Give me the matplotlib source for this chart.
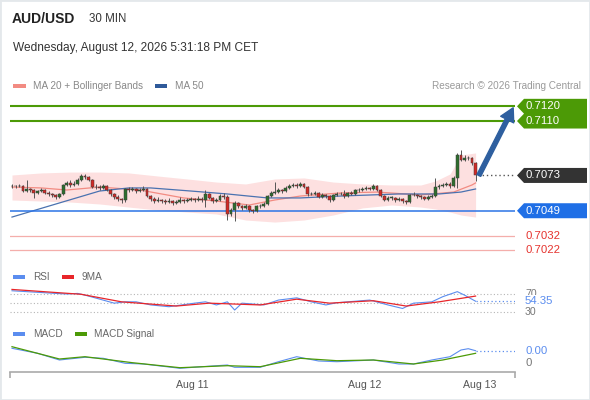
import matplotlib
matplotlib.use('Agg')
import matplotlib.pyplot as plt
from matplotlib.patches import Polygon, Rectangle
from matplotlib.transforms import IdentityTransform
import numpy as np

plt.rcParams['font.family'] = ['Liberation Sans', 'DejaVu Sans']

# ---------------- data ----------------
pair = "AUD/USD"
timeframe = "30 MIN"
date_text = "Wednesday, August 12, 2026 5:31:18 PM CET"

first_open = 0.70658
closes = [
    0.70658, 0.70658, 0.70658, 0.70624, 0.70638, 0.70631, 0.70611, 0.70624, 0.70631, 0.70611,
    0.70604, 0.70597, 0.70583, 0.70604, 0.70665, 0.70679, 0.70665, 0.70672, 0.70699, 0.70726,
    0.70720, 0.70699, 0.70651, 0.70651, 0.70645, 0.70658, 0.70631, 0.70604, 0.70583, 0.70570,
    0.70563, 0.70638, 0.70631, 0.70638, 0.70624, 0.70631, 0.70638, 0.70590, 0.70570, 0.70556,
    0.70563, 0.70556, 0.70549, 0.70556, 0.70543, 0.70549, 0.70563, 0.70556, 0.70563, 0.70570,
    0.70563, 0.70570, 0.70563, 0.70604, 0.70577, 0.70556, 0.70563, 0.70590, 0.70583, 0.70468,
    0.70495, 0.70543, 0.70522, 0.70509, 0.70522, 0.70495, 0.70488, 0.70522, 0.70522, 0.70536,
    0.70590, 0.70611, 0.70617, 0.70631, 0.70624, 0.70645, 0.70658, 0.70665, 0.70658, 0.70672,
    0.70651, 0.70604, 0.70604, 0.70611, 0.70583, 0.70597, 0.70590, 0.70563, 0.70597, 0.70604,
    0.70604, 0.70590, 0.70611, 0.70604, 0.70631, 0.70631, 0.70638, 0.70645, 0.70638, 0.70658,
    0.70631, 0.70590, 0.70563, 0.70577, 0.70577, 0.70563, 0.70570, 0.70556, 0.70549, 0.70597,
    0.70597, 0.70590, 0.70583, 0.70570, 0.70583, 0.70590, 0.70651, 0.70658, 0.70665, 0.70672,
    0.70658, 0.70713, 0.70869, 0.70835, 0.70849, 0.70849, 0.70815, 0.70730]
highs = [
    0.70672, 0.70665, 0.70672, 0.70665, 0.70699, 0.70645, 0.70638, 0.70631, 0.70645, 0.70638,
    0.70624, 0.70611, 0.70604, 0.70611, 0.70672, 0.70692, 0.70699, 0.70692, 0.70713, 0.70740,
    0.70740, 0.70726, 0.70706, 0.70672, 0.70665, 0.70672, 0.70665, 0.70638, 0.70611, 0.70597,
    0.70577, 0.70645, 0.70651, 0.70651, 0.70645, 0.70645, 0.70658, 0.70645, 0.70597, 0.70583,
    0.70583, 0.70570, 0.70570, 0.70577, 0.70563, 0.70563, 0.70583, 0.70570, 0.70577, 0.70583,
    0.70577, 0.70590, 0.70583, 0.70631, 0.70611, 0.70583, 0.70577, 0.70604, 0.70611, 0.70597,
    0.70509, 0.70556, 0.70549, 0.70529, 0.70536, 0.70529, 0.70502, 0.70529, 0.70536, 0.70549,
    0.70597, 0.70624, 0.70685, 0.70645, 0.70638, 0.70658, 0.70672, 0.70679, 0.70679, 0.70685,
    0.70679, 0.70658, 0.70617, 0.70624, 0.70617, 0.70611, 0.70604, 0.70597, 0.70604, 0.70617,
    0.70617, 0.70631, 0.70617, 0.70624, 0.70638, 0.70645, 0.70651, 0.70658, 0.70651, 0.70672,
    0.70665, 0.70638, 0.70597, 0.70590, 0.70590, 0.70583, 0.70583, 0.70577, 0.70563, 0.70604,
    0.70617, 0.70604, 0.70597, 0.70590, 0.70597, 0.70604, 0.70713, 0.70672, 0.70679, 0.70685,
    0.70685, 0.70726, 0.70883, 0.70903, 0.70869, 0.70862, 0.70856, 0.70822]
lows = [
    0.70645, 0.70645, 0.70651, 0.70617, 0.70617, 0.70617, 0.70577, 0.70604, 0.70617, 0.70604,
    0.70590, 0.70583, 0.70570, 0.70577, 0.70597, 0.70658, 0.70651, 0.70658, 0.70665, 0.70692,
    0.70706, 0.70692, 0.70645, 0.70638, 0.70631, 0.70638, 0.70624, 0.70590, 0.70570, 0.70556,
    0.70543, 0.70549, 0.70617, 0.70624, 0.70611, 0.70617, 0.70624, 0.70583, 0.70556, 0.70543,
    0.70549, 0.70543, 0.70536, 0.70543, 0.70529, 0.70536, 0.70543, 0.70543, 0.70549, 0.70556,
    0.70549, 0.70556, 0.70549, 0.70515, 0.70570, 0.70543, 0.70549, 0.70556, 0.70570, 0.70427,
    0.70454, 0.70420, 0.70509, 0.70495, 0.70502, 0.70481, 0.70475, 0.70481, 0.70509, 0.70515,
    0.70529, 0.70583, 0.70604, 0.70611, 0.70611, 0.70617, 0.70638, 0.70651, 0.70645, 0.70651,
    0.70645, 0.70590, 0.70597, 0.70597, 0.70577, 0.70577, 0.70577, 0.70549, 0.70556, 0.70590,
    0.70597, 0.70577, 0.70583, 0.70597, 0.70597, 0.70617, 0.70624, 0.70631, 0.70631, 0.70631,
    0.70624, 0.70583, 0.70556, 0.70556, 0.70563, 0.70549, 0.70556, 0.70543, 0.70536, 0.70543,
    0.70590, 0.70577, 0.70570, 0.70563, 0.70563, 0.70577, 0.70583, 0.70638, 0.70651, 0.70658,
    0.70645, 0.70651, 0.70645, 0.70828, 0.70828, 0.70835, 0.70801, 0.70692]

band_idx = [0, 8, 16, 24, 32, 40, 48, 56, 64, 72, 80, 88, 96, 104, 112, 116, 120, 123, 127]
band_upper = [0.70733, 0.70747, 0.70753, 0.70753, 0.70747, 0.70726, 0.70706, 0.70685, 0.70672, 0.70706,
              0.70713, 0.70685, 0.70672, 0.70665, 0.70665, 0.70692, 0.70740, 0.70869, 0.70883]
band_lower = [0.70563, 0.70556, 0.70549, 0.70536, 0.70515, 0.70495, 0.70481, 0.70468, 0.70427, 0.70413,
              0.70427, 0.70461, 0.70509, 0.70529, 0.70515, 0.70502, 0.70481, 0.70461, 0.70447]
ma20_idx = [0, 8, 15, 24, 35, 47, 56, 65, 72, 79, 90, 100, 112, 121, 126, 127]
ma20 = [0.70651, 0.70645, 0.70631, 0.70651, 0.70631, 0.70577, 0.70556, 0.70529, 0.70563, 0.70590,
        0.70611, 0.70617, 0.70597, 0.70617, 0.70665, 0.70679]
ma50_idx = [0, 13, 24, 32, 38, 49, 59, 70, 79, 90, 106, 117, 123, 127]
ma50 = [0.70447, 0.70543, 0.70624, 0.70645, 0.70645, 0.70624, 0.70604, 0.70577, 0.70577, 0.70590,
        0.70604, 0.70604, 0.70617, 0.70638]

resistances = [0.7120, 0.7110]
support_main = 0.7049
supports_minor = [0.7032, 0.7022]

rsi_idx = [0, 7, 12, 15, 18, 21, 28, 31, 34, 38, 43, 50, 53, 56, 59, 61, 63, 69, 73, 78, 82, 86,
           89, 98, 103, 107, 110, 115, 118, 122, 124, 127]
rsi = [78, 74.5, 72, 70.7, 72, 66, 50, 53, 53, 46, 42, 50, 53, 46, 53, 34.5, 50, 46, 57, 62, 53, 46,
       51, 57, 46, 38, 50, 53, 64.6, 76, 68, 54.35]
rsi_ma_idx = [0, 19, 30, 45, 54, 68, 78, 87, 99, 108, 117, 127]
rsi_ma = [81, 70, 53, 43.5, 50, 46, 59, 50, 55.5, 43.5, 53, 66]
rsi_levels = [70, 50, 30]

macd_idx = [0, 7, 13, 20, 25, 31, 36, 46, 52, 59, 61, 68, 73, 78, 84, 89, 99, 106, 110, 115, 120,
            123, 125, 127]
macd = [0.000147, 0.000097, 0.000030, 0.000057, 0.000047, -0.000003, -0.000010, -0.000053,
        -0.000037, -0.000020, -0.000043, -0.000043, 0.000013, 0.000063, 0.000020, 0.000013,
        0.000030, -0.000010, -0.000010, 0.000030, 0.000063, 0.000130, 0.000143, 0.000123]
signal_idx = [0, 13, 20, 33, 46, 59, 68, 79, 89, 99, 110, 118, 127]
signal = [0.000163, 0.000040, 0.000063, 0.000003, -0.000047, -0.000027, -0.000037, 0.000047,
          0.000023, 0.000030, -0.000010, 0.000030, 0.000097]

tick_pos = [49.3, 96.7, 128.2]
tick_labels = ["Aug 11", "Aug 12", "Aug 13"]

# ---------------- style ----------------
GREEN_C = '#2e6e2e'
RED_C = '#d22a26'
LVL_GREEN = '#4c9a06'
LVL_BLUE = '#1f6fe6'
DARK = '#333333'
RSI_BLUE = '#5b8def'
MA_RED = '#e8262a'
W, H = 590, 400

fig = plt.figure(figsize=(W / 100, H / 100), dpi=100)
fig.patch.set_facecolor('white')

X0, X1 = 10, 515
XL, XR = -0.548, 137.8
LBL_X = 525


def add_axes(top, bottom):
    a = fig.add_axes([X0 / W, 1 - bottom / H, (X1 - X0) / W, (bottom - top) / H])
    a.set_xlim(XL, XR)
    a.patch.set_alpha(0)
    for s in a.spines.values():
        s.set_visible(False)
    a.set_xticks([])
    a.set_yticks([])
    return a


# ---- main price panel ----
ax = add_axes(95, 260)
ax.set_ylim(0.70155, 0.71277)

n = len(closes)
idx = np.arange(n)
c = np.array(closes)
o = np.array([first_open] + closes[:-1])
up = c >= o
body_bottom = np.minimum(o, c)
body_h = np.maximum(np.abs(c - o), 0.00003)
cols = np.where(up, GREEN_C, RED_C)

ax.fill_between(band_idx, band_lower, band_upper, color='#fde0e0', lw=0, zorder=1)
ax.plot(ma20_idx, ma20, color='#f28b82', lw=0.9, zorder=2)
ax.plot(ma50_idx, ma50, color='#4a72b0', lw=0.9, zorder=2)

for r in resistances:
    ax.axhline(r, color=LVL_GREEN, lw=1.5, zorder=2)
ax.axhline(support_main, color='#2b74e6', lw=1.1, zorder=2)
for s in supports_minor:
    ax.axhline(s, color='#f4aeab', lw=0.9, zorder=2)

ax.vlines(idx, lows, highs, color='#555555', lw=0.7, zorder=3)
ax.bar(idx, body_h, bottom=body_bottom, width=0.78, color=cols, edgecolor='#3a3a3a', lw=0.35,
       zorder=4)

ax.hlines(closes[-1], n - 0.4, XR, colors='#555555', linestyles=(0, (1, 2)), lw=1, zorder=2)

ax.annotate('', xy=(n - 1 + 10.3, resistances[0] - 0.0001), xytext=(n - 1 + 0.9, closes[-1]),
            arrowprops=dict(facecolor='#2e5f9f', edgecolor='#2e5f9f', width=3.0,
                            headwidth=10.5, headlength=9.5, shrink=0),
            annotation_clip=False, zorder=6)


def disp_y(a, v):
    return a.transData.transform((0, v))[1]


def tag(a, values, color, fmt='{:.4f}'):
    ys = sorted([disp_y(a, v) for v in values], reverse=True)
    half = 7.5
    xl, xt, xr = 524, 517, 587
    top, bot = ys[0] + half, ys[-1] - half
    verts = [(xl, top)]
    for k, y in enumerate(ys):
        verts.append((xt, y))
        if k < len(ys) - 1:
            verts.append((xl, (y + ys[k + 1]) / 2))
    verts += [(xl, bot), (xr, bot), (xr, top)]
    fig.add_artist(Polygon(verts, closed=True, transform=IdentityTransform(),
                           facecolor=color, edgecolor='none', zorder=5))
    for v in values:
        fig.text(LBL_X / W, disp_y(a, v) / H, fmt.format(v), color='white', fontsize=8.2,
                 va='center', ha='left', zorder=6)


tag(ax, resistances, LVL_GREEN)
tag(ax, [closes[-1]], DARK)
tag(ax, [support_main], LVL_BLUE)
for s in supports_minor:
    fig.text(LBL_X / W, disp_y(ax, s) / H, '{:.4f}'.format(s), color='#e5332e', fontsize=8.2,
             va='center', ha='left')

# ---- RSI panel ----
axr = add_axes(285, 320)
axr.set_ylim(12, 91)
for lv in rsi_levels:
    axr.hlines(lv, XL, XR, colors='#b5b5b5', linestyles=(0, (1, 2)), lw=0.8)
axr.plot(rsi_idx, rsi, color=RSI_BLUE, lw=0.8, zorder=3)
axr.plot(rsi_ma_idx, rsi_ma, color=MA_RED, lw=0.9, zorder=3)
axr.hlines(rsi[-1], rsi_idx[-1], XR, colors=RSI_BLUE, linestyles=(0, (1, 2)), lw=0.9)
for lv in (70, 30):
    fig.text(LBL_X / W, disp_y(axr, lv) / H, str(lv), color='#777777', fontsize=7.6,
             va='center', ha='left')
fig.text(LBL_X / W, disp_y(axr, rsi[-1]) / H, '{:.2f}'.format(rsi[-1]), color=RSI_BLUE,
         fontsize=8.2, va='center', ha='left',
         bbox=dict(facecolor='white', edgecolor='none', pad=0.6))

# ---- MACD panel ----
axm = add_axes(340, 372)
axm.set_ylim(-0.00009, 0.00023)
axm.plot(macd_idx, macd, color=RSI_BLUE, lw=0.8, zorder=3)
axm.plot(signal_idx, signal, color=LVL_GREEN, lw=0.9, zorder=3)
axm.hlines(macd[-1], macd_idx[-1], XR, colors=RSI_BLUE, linestyles=(0, (1, 2)), lw=0.9)
fig.text(LBL_X / W, disp_y(axm, macd[-1]) / H, '{:.2f}'.format(macd[-1]), color=RSI_BLUE,
         fontsize=8.2, va='center', ha='left')
fig.text(LBL_X / W, disp_y(axm, 0) / H, '0', color='#777777', fontsize=8.2,
         va='center', ha='left')

axm.spines['bottom'].set_visible(True)
axm.spines['bottom'].set_color('#aaaaaa')
axm.spines['bottom'].set_linewidth(1.2)
axm.set_xticks(tick_pos)
axm.set_xticklabels(tick_labels, fontsize=7.6, color='#555555')
axm.tick_params(axis='x', which='major', length=0, pad=6)
axm.set_xticks([XL, XR], minor=True)
axm.tick_params(axis='x', which='minor', length=4, width=1.2, color='#aaaaaa', direction='out')

# ---------------- header / legends ----------------
def ftext(x, y, s, **kw):
    fig.text(x / W, 1 - y / H, s, va='center', ha=kw.pop('ha', 'left'), **kw)


def swatch(x, y, w, h, color):
    fig.add_artist(Rectangle((x / W, 1 - (y + h / 2) / H), w / W, h / H,
                             transform=fig.transFigure, facecolor=color, edgecolor='none'))


ftext(12, 19, pair, fontsize=10, fontweight='bold', color='#222222')
ftext(89, 19, timeframe, fontsize=8.3, color='#333333')
ftext(13, 48, date_text, fontsize=8.6, color='#333333')

swatch(13, 86, 13, 4.5, '#f28b82')
ftext(33, 86, 'MA 20 + Bollinger Bands', fontsize=7.2, color='#888888')
swatch(155, 86, 12, 4.5, '#2f5a9a')
ftext(175, 86, 'MA 50', fontsize=7.2, color='#888888')
ftext(581, 86, 'Research \u00a9 2026 Trading Central', fontsize=7.2, color='#9a9a9a', ha='right')

swatch(13, 277, 12, 4, RSI_BLUE)
ftext(33, 277, 'RSI', fontsize=7.2, color='#666666')
swatch(62, 277, 12, 4, MA_RED)
ftext(82, 277, '9MA', fontsize=7.2, color='#666666')

swatch(13, 334, 12, 4, RSI_BLUE)
ftext(33, 334, 'MACD', fontsize=7.2, color='#666666')
swatch(75, 334, 12, 4, LVL_GREEN)
ftext(94, 334, 'MACD Signal', fontsize=7.2, color='#666666')

fig.add_artist(Rectangle((0, 0), 1, 1, transform=fig.transFigure, fill=False,
                         edgecolor='#e4e8eb', lw=2))

fig.savefig('out.png', dpi=100, facecolor='white')
